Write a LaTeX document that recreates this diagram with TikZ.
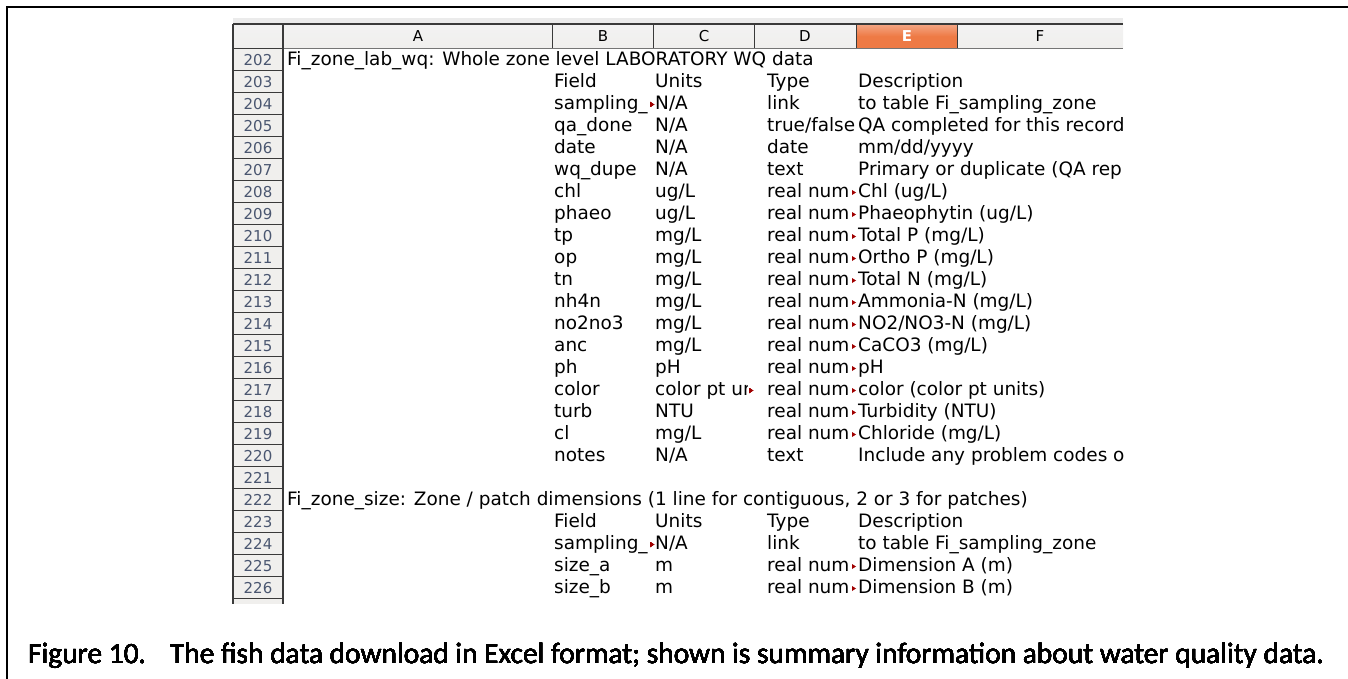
\documentclass[tikz,border=0pt]{standalone}
\usepackage{fontspec}
\setmainfont{DejaVu Sans}
\newfontfamily\capfont{Carlito-Regular.ttf}
\definecolor{hdrgray}{HTML}{F0EFED}
\definecolor{hdrline}{HTML}{3A3A3A}
\definecolor{rownum}{HTML}{4A5670}
\definecolor{selorange}{HTML}{EE7A45}
\definecolor{sellight}{HTML}{F4A786}
\definecolor{markred}{HTML}{A00000}
\tikzset{
	cell/.style={anchor=base west,inner sep=0pt,font=\fontsize{18.45}{22}\selectfont},
	rowno/.style={anchor=base,inner sep=0pt,text=rownum,font=\fontsize{15}{18}\selectfont},
	colhd/.style={anchor=base,inner sep=0pt,font=\fontsize{15}{18}\selectfont},
	ovf/.style={fill=markred,draw=none}
}
% row, field, units, type, description
\newcommand\wqrow[5]{%
	\node[cell] (f#1) at (554,{48.5+(#1-202)*22+17}) {#2};
	\node[cell] (u#1) at (655,{48.5+(#1-202)*22+17}) {#3};
	\node[cell] (t#1) at (767,{48.5+(#1-202)*22+17}) {#4};
	\node[cell] (d#1) at (858,{48.5+(#1-202)*22+17}) {#5};
}
% small red mark for clipped cell text
\newcommand\ovfmark[2]{\fill[ovf] (#1,{48.5+(#2-202)*22+9.5}) -- ++(4,2.5) -- ++(-4,2.5) -- cycle;}
\begin{document}
\begin{tikzpicture}[x=1pt,y=-1pt]
	\useasboundingbox (0,0) rectangle (1348,679);
	\draw[line width=2pt] (7,679) -- (7,7) -- (1348,7);
	% column header
	\fill[black!8] (233,18) rectangle (1123,23);
	\shade[top color=white!95!black,bottom color=hdrgray] (233,24) rectangle (1123,48.5);
	\shade[top color=sellight,bottom color=selorange,middle color=selorange] (856,24) rectangle (957,48.5);
	\draw[hdrline,line width=2pt] (233,24) -- (1123,24);
	\draw[hdrline!70,line width=1pt] (233,48.5) -- (1123,48.5);
	\foreach \cx in {552,653,754,856,957}
		\draw[hdrline,line width=1pt] (\cx,24) -- (\cx,48.5);
	\foreach \lbl/\cx in {A/418,B/603,C/704,D/805,F/1040}
		\node[colhd] (h\lbl) at (\cx,42) {\lbl};
	\node[colhd,text=white,font=\fontsize{15}{18}\selectfont\bfseries] (hE) at (907,42) {E};
	% row numbers
	\fill[hdrgray] (233,48.5) rectangle (283,604);
	\foreach \n in {202,...,226}{
		\draw[hdrline,line width=1pt] (233,{48.5+(\n-202)*22}) -- (283,{48.5+(\n-202)*22});
		\node[rowno] (r\n) at (258,{48.5+(\n-202)*22+17}) {\n};
	}
	\draw[hdrline,line width=1pt] (233,598.5) -- (283,598.5);
	\draw[hdrline,line width=2pt] (233,24) -- (233,604);
	\draw[hdrline,line width=1.2pt] (283,24) -- (283,604);
	% cells
	\begin{scope}
		\clip (284,48.5) rectangle (1124,604);
		\node[cell] (t202) at (287,65.5) {Fi\_zone\_lab\_wq: Whole zone level LABORATORY WQ data};
		\wqrow{203}{Field}{Units}{Type}{Description}
		\wqrow{204}{sampling\_}{N/A}{link}{to table Fi\_sampling\_zone}
		\wqrow{205}{qa\_done}{N/A}{true/false}{QA completed for this record}
		\wqrow{206}{date}{N/A}{date}{mm/dd/yyyy}
		\wqrow{207}{wq\_dupe}{N/A}{text}{Primary or duplicate (QA rep}
		\wqrow{208}{chl}{ug/L}{real num}{Chl (ug/L)}
		\wqrow{209}{phaeo}{ug/L}{real num}{Phaeophytin (ug/L)}
		\wqrow{210}{tp}{mg/L}{real num}{Total P (mg/L)}
		\wqrow{211}{op}{mg/L}{real num}{Ortho P (mg/L)}
		\wqrow{212}{tn}{mg/L}{real num}{Total N (mg/L)}
		\wqrow{213}{nh4n}{mg/L}{real num}{Ammonia-N (mg/L)}
		\wqrow{214}{no2no3}{mg/L}{real num}{NO2/NO3-N (mg/L)}
		\wqrow{215}{anc}{mg/L}{real num}{CaCO3 (mg/L)}
		\wqrow{216}{ph}{pH}{real num}{pH}
		\wqrow{217}{color}{}{real num}{color (color pt units)}
		\wqrow{218}{turb}{NTU}{real num}{Turbidity (NTU)}
		\wqrow{219}{cl}{mg/L}{real num}{Chloride (mg/L)}
		\wqrow{220}{notes}{N/A}{text}{Include any problem codes o}
		\node[cell] (t222) at (287,505.5) {Fi\_zone\_size: Zone / patch dimensions (1 line for contiguous, 2 or 3 for patches)};
		\wqrow{223}{Field}{Units}{Type}{Description}
		\wqrow{224}{sampling\_}{N/A}{link}{to table Fi\_sampling\_zone}
		\wqrow{225}{size\_a}{m}{real num}{Dimension A (m)}
		\wqrow{226}{size\_b}{m}{real num}{Dimension B (m)}
	\end{scope}
	\begin{scope}
		\clip (653,378.5) rectangle (747,400.5);
		\node[cell] (u217) at (655,395.5) {color pt un};
	\end{scope}
	\foreach \n in {208,...,219,225,226}
		\ovfmark{852}{\n}
	\ovfmark{650}{204}
	\ovfmark{650}{224}
	\ovfmark{749}{217}
	% caption
	\node[anchor=base west,inner sep=0pt,font=\capfont\fontsize{29.4}{34}\selectfont] (cap) at (28,663)
		{Figure 10.\hspace{24pt}The fish data download in Excel format; shown is summary information about water quality data.};
\end{tikzpicture}
\end{document}
